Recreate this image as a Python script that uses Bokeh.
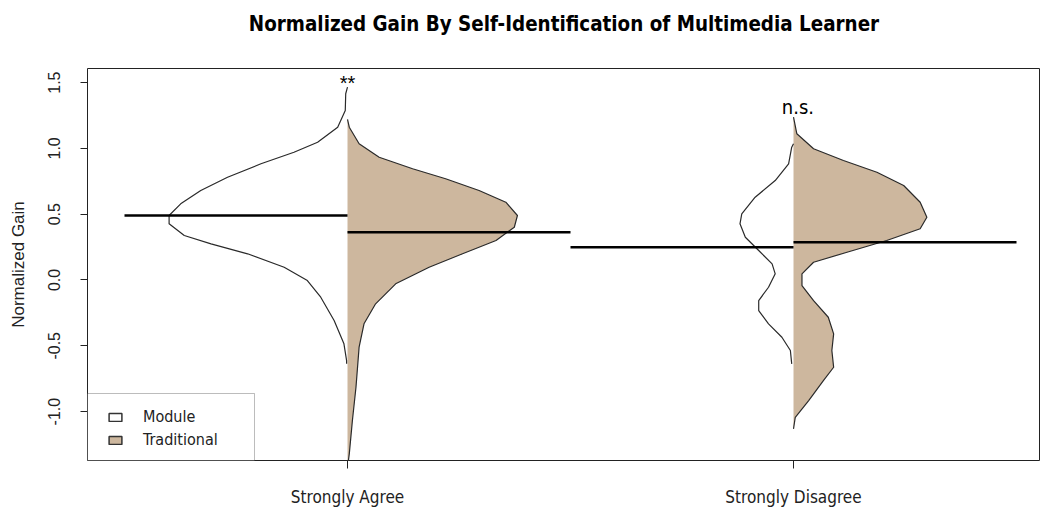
from bokeh.plotting import figure
from bokeh.models import (Range1d, FixedTicker, NumeralTickFormatter, BoxAnnotation,
                          Legend, LegendItem, Title)
from bokeh.core.properties import value
from bokeh.embed import file_html
from bokeh.resources import INLINE

# ---------------- data ----------------
title_text = "Normalized Gain By Self-Identification of Multimedia Learner"
categories = ["Strongly Agree", "Strongly Disagree"]
positions = [1, 2]

# density half-widths (x units) at normalized-gain levels
mod_agree_y = [1.465, 1.415, 1.288, 1.161, 1.047, 0.971, 0.883, 0.781, 0.680, 0.579, 0.490,
               0.427, 0.338, 0.275, 0.199, 0.097, -0.004, -0.131, -0.308, -0.485, -0.612, -0.637]
mod_agree_w = [0.0, 0.004, 0.005, 0.022, 0.067, 0.120, 0.194, 0.269, 0.329, 0.374, 0.400,
               0.400, 0.366, 0.306, 0.224, 0.142, 0.090, 0.060, 0.030, 0.008, 0.002, 0.002]

trad_agree_y = [1.22, 1.161, 1.035, 0.933, 0.845, 0.769, 0.680, 0.591, 0.490, 0.401, 0.300,
                0.199, 0.097, -0.029, -0.181, -0.333, -0.511, -0.815, -1.068, -1.321, -1.372]
trad_agree_w = [0.0, 0.004, 0.026, 0.071, 0.146, 0.220, 0.295, 0.355, 0.381, 0.374, 0.333,
                0.258, 0.183, 0.108, 0.063, 0.037, 0.026, 0.019, 0.011, 0.004, 0.002]

mod_dis_y = [1.035, 1.009, 0.883, 0.756, 0.629, 0.503, 0.427, 0.325, 0.224, 0.123, 0.047,
             -0.055, -0.156, -0.232, -0.333, -0.435, -0.536, -0.637]
mod_dis_w = [0.0, 0.004, 0.011, 0.041, 0.086, 0.116, 0.120, 0.108, 0.078, 0.048, 0.041,
             0.056, 0.078, 0.078, 0.056, 0.026, 0.007, 0.004]

trad_dis_y = [1.237, 1.111, 0.997, 0.908, 0.819, 0.718, 0.591, 0.477, 0.389, 0.300, 0.211,
              0.135, 0.047, -0.042, -0.156, -0.283, -0.409, -0.536, -0.663, -0.764, -0.916,
              -1.043, -1.131]
trad_dis_w = [0.0, 0.0075, 0.045, 0.112, 0.187, 0.247, 0.284, 0.299, 0.284, 0.209, 0.120,
              0.045, 0.019, 0.019, 0.045, 0.078, 0.090, 0.086, 0.090, 0.067, 0.034,
              0.004, 0.0]

module_means = [0.490, 0.249]
traditional_means = [0.363, 0.287]

sig_labels = ["**", "n.s."]
sig_label_x = [1.0, 2.01]
sig_label_y = [1.50, 1.315]

y_ticks = [-1.0, -0.5, 0.0, 0.5, 1.0, 1.5]

TAN = "#CDB79E"
NARROW = "DejaVu Sans Condensed"
TXT = "#222222"

# ---------------- figure ----------------
p = figure(width=1040, height=510, output_backend="svg", toolbar_location=None,
           x_range=Range1d(0.41704, 2.5538), y_range=Range1d(-1.3716, 1.6071),
           min_border_left=87, min_border_right=0, min_border_top=68, min_border_bottom=50)
p.xgrid.visible = False
p.ygrid.visible = False
p.outline_line_color = "#222222"
p.outline_line_width = 1
p.background_fill_color = "white"
p.border_fill_color = "white"

# blank spacer panel between frame and title, then the title itself
p.add_layout(Title(text=" ", text_font_size="10px", standoff=12), "above")
p.add_layout(Title(text=title_text, align="center", vertical_align="bottom", standoff=16,
                   text_font=NARROW, text_font_size="20.4px", text_font_style="bold",
                   text_color="black"), "above")

# y axis
ya = p.yaxis[0]
ya.ticker = FixedTicker(ticks=y_ticks)
ya.formatter = NumeralTickFormatter(format="0.0")
ya.major_label_orientation = "vertical"
ya.axis_line_color = None
ya.major_tick_in = 0
ya.major_tick_out = 7
ya.minor_tick_line_color = None
ya.major_tick_line_color = TXT
ya.major_label_text_font = "Liberation Sans"
ya.major_label_text_font_size = "16px"
ya.major_label_text_color = TXT
ya.major_label_standoff = 20
ya.axis_label = "Normalized Gain"
ya.axis_label_text_font = "Liberation Sans"
ya.axis_label_text_font_size = "17px"
ya.axis_label_text_font_style = "normal"
ya.axis_label_text_color = TXT
ya.axis_label_standoff = 18

# x axis
xa = p.xaxis[0]
xa.ticker = FixedTicker(ticks=positions)
xa.major_label_overrides = {pos: lab for pos, lab in zip(positions, categories)}
xa.axis_line_color = None
xa.major_tick_in = 0
xa.major_tick_out = 8
xa.minor_tick_line_color = None
xa.major_tick_line_color = TXT
xa.major_label_text_font = NARROW
xa.major_label_text_font_size = "17px"
xa.major_label_text_color = TXT
xa.major_label_standoff = 18

# ---------------- beans ----------------
halves = [
    (positions[0], mod_agree_y, mod_agree_w, -1, "white"),
    (positions[0], trad_agree_y, trad_agree_w, 1, TAN),
    (positions[1], mod_dis_y, mod_dis_w, -1, "white"),
    (positions[1], trad_dis_y, trad_dis_w, 1, TAN),
]
legend_src = {}
for c, ys, ws, side, col in halves:
    xs = [c + side * w for w in ws]
    px = xs + [c, c]
    py = ys + [ys[-1], ys[0]]
    p.patch(px, py, fill_color=col, line_color=None)
    if col not in legend_src:
        # hidden copy with a border, used only for the legend key
        r = p.patch(px, py, fill_color=col, line_color="#333333", line_width=1.5)
        r.visible = False
        legend_src[col] = r
for c, ys, ws, side, col in halves:
    xs = [c + side * w for w in ws]
    p.line(xs, ys, line_color="#2a2a2a", line_width=1.2, line_join="round")

# mean lines
p.segment(x0=[c - 0.5 for c in positions], x1=positions, y0=module_means, y1=module_means,
          line_color="black", line_width=2.6)
p.segment(x0=positions, x1=[c + 0.5 for c in positions], y0=traditional_means,
          y1=traditional_means, line_color="black", line_width=2.6)

# significance labels
p.text(x=sig_label_x[:1], y=sig_label_y[:1], text=sig_labels[:1], text_align="center",
       text_baseline="alphabetic", text_font=value("Liberation Sans"), text_font_size="20px",
       text_color="black")
p.text(x=sig_label_x[1:], y=sig_label_y[1:], text=sig_labels[1:], text_align="center",
       text_baseline="alphabetic", text_font=value(NARROW), text_font_size="20px",
       text_color="black")

# ---------------- legend ----------------
box = BoxAnnotation(right=0.7915, top=-0.8625, fill_color="white", fill_alpha=1.0,
                    line_color="#222222", line_width=1, level="annotation")
p.add_layout(box)

legend = Legend(items=[LegendItem(label="Module", renderers=[legend_src["white"]]),
                       LegendItem(label="Traditional", renderers=[legend_src[TAN]])],
                location=(20, 9), padding=0, margin=0, spacing=0,
                glyph_width=16, glyph_height=10, label_height=23, label_standoff=20,
                border_line_color=None, background_fill_alpha=0.0,
                inactive_fill_alpha=0.0,
                label_text_font=NARROW, label_text_font_size="16px",
                label_text_color=TXT, click_policy="none")
p.add_layout(legend, "center")

open("out.html", "w").write(file_html(p, INLINE))
